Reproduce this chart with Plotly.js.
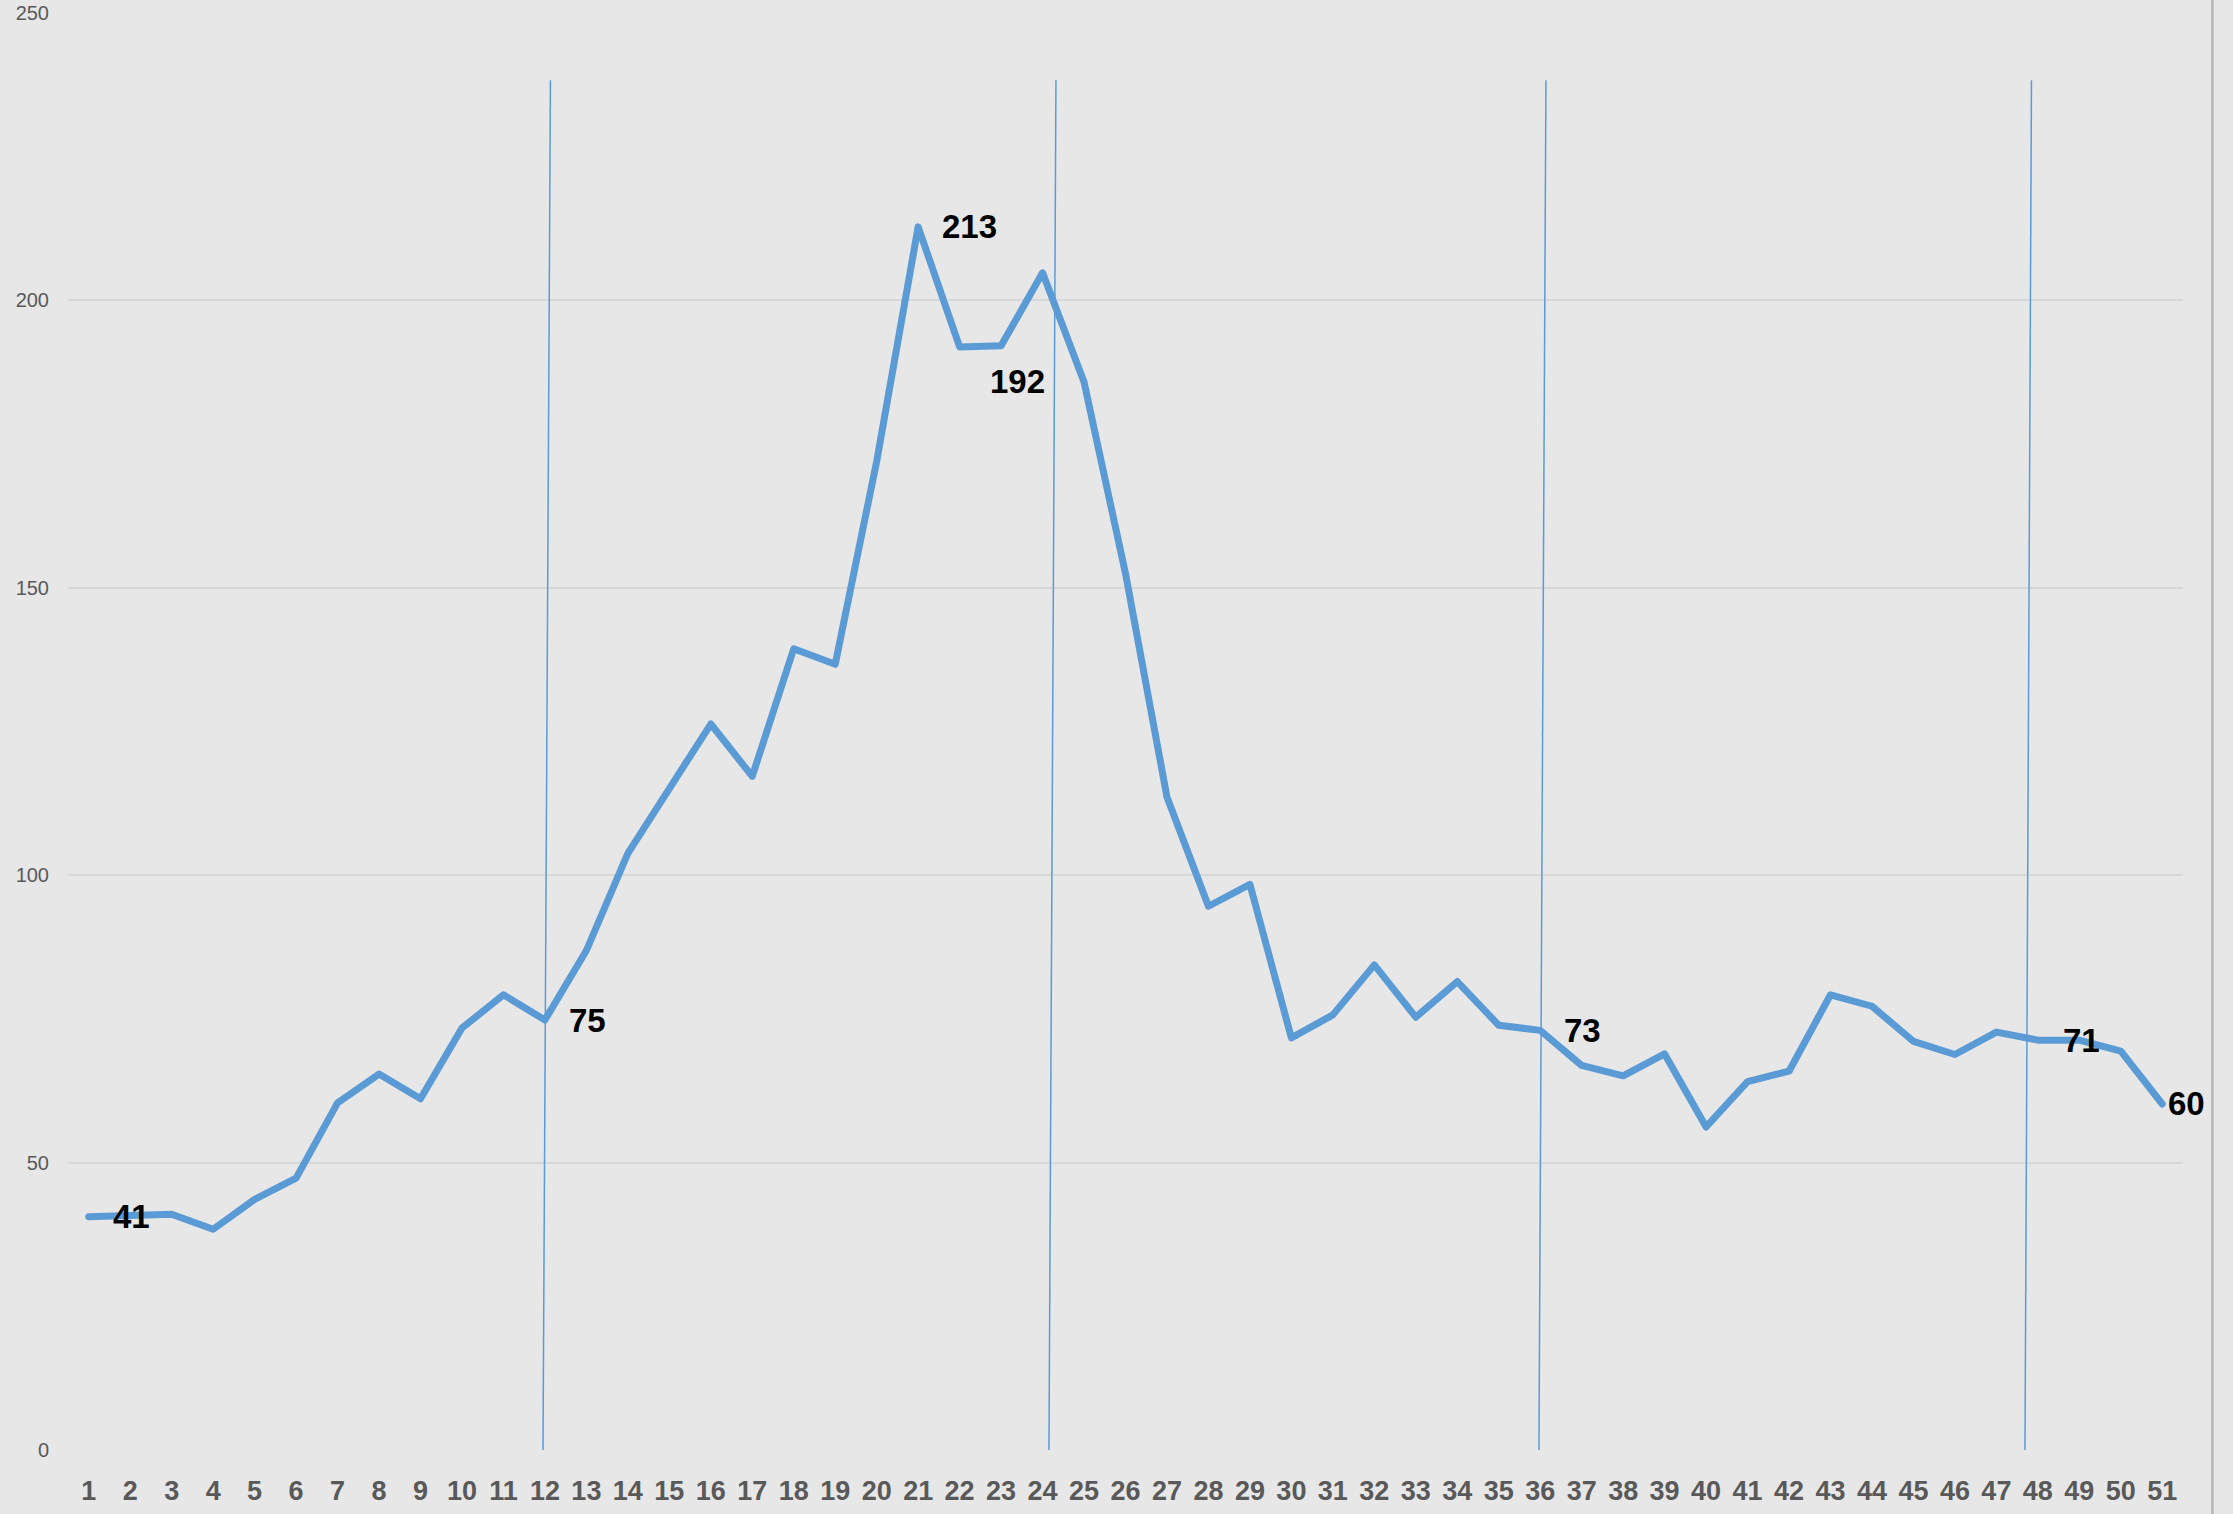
<!DOCTYPE html>
<html>
<head>
<meta charset="utf-8">
<script src="https://cdn.plot.ly/plotly-3.0.1.min.js"></script>
<style>
  html, body { margin: 0; padding: 0; background: #e7e7e7; }
  #chart { width: 2233px; height: 1514px; }
  #chart path.js-line { stroke-linejoin: round; stroke-linecap: round; }
</style>
</head>
<body>
<div id="chart"></div>
<script>
// ---- data ----
const weeks = [1,2,3,4,5,6,7,8,9,10,11,12,13,14,15,16,17,18,19,20,21,22,23,24,25,26,
  27,28,29,30,31,32,33,34,35,36,37,38,39,40,41,42,43,44,45,46,47,48,49,50,51];
const tickLabels = ["1","2","3","4","5","6","7","8","9","10","11","12","13","14","15","16","17",
  "18","19","20","21","22","23","24","25","26","27","28","29","30","31","32","33","34","35","36",
  "37","38","39","40","41","42","43","44","45","46","47","48","49","50","51"];
const values = [40.6, 40.7, 41.0, 38.4, 43.6, 47.3, 60.4, 65.4, 61.1, 73.4, 79.2, 74.8,
  86.9, 103.8, 115.0, 126.3, 117.2, 139.4, 136.7, 172.0, 212.8, 191.9, 192.1, 204.8,
  185.8, 152.5, 113.6, 94.6, 98.4, 71.7, 75.7, 84.4, 75.3, 81.5, 73.9, 73.0,
  66.9, 65.1, 68.9, 56.2, 64.1, 65.9, 79.2, 77.2, 71.1, 68.8, 72.7, 71.3,
  71.3, 69.4, 60.2];
const labelledWeeks = [1, 12, 21, 23, 36, 48, 51];
const dividerWeeks = [12, 24, 36, 48];
const yTicks = [0, 50, 100, 150, 200, 250];

// ---- styling ----
const lineColor = '#5b9bd5';
const bg = '#e7e7e7';

// label placements (offsets in px)
const labelStyle = {
  1:  {xshift: 22, yshift: 0, xanchor: 'left'},
  12: {xshift: 22, yshift: 0, xanchor: 'left'},
  21: {xshift: 22, yshift: 0, xanchor: 'left'},
  23: {xshift: 16, yshift: -36, xanchor: 'center'},
  36: {xshift: 22, yshift: 0, xanchor: 'left'},
  48: {xshift: 23, yshift: 0, xanchor: 'left'},
  51: {xshift: 4,  yshift: 0, xanchor: 'left'}
};
// slant of hand-drawn divider lines (top / bottom offsets from week)
const dividerSlant = {12: [0.133, -0.047], 24: [0.323, 0.154], 36: [0.138, -0.031], 48: [-0.154, -0.311]};

const annotations = labelledWeeks.map(w => {
  const s = labelStyle[w];
  return {
    x: w, y: values[w - 1], xref: 'x', yref: 'y',
    text: String(Math.round(values[w - 1])),
    showarrow: false, xanchor: s.xanchor, yanchor: 'middle',
    xshift: s.xshift, yshift: s.yshift,
    font: {family: 'Liberation Sans, Arial, sans-serif', size: 33, color: '#000000', weight: 'bold'}
  };
});

const shapes = dividerWeeks.map(w => ({
  type: 'line', xref: 'x', yref: 'y',
  x0: w + dividerSlant[w][1], y0: -0.5,
  x1: w + dividerSlant[w][0], y1: 238.3,
  line: {color: lineColor, width: 1.5}
}));
shapes.push({
  type: 'line', xref: 'paper', yref: 'paper',
  x0: 1.0139, x1: 1.0139, y0: -0.05, y1: 1.02,
  line: {color: '#b4b4b4', width: 2.5}
});

const trace = {
  x: weeks, y: values, type: 'scatter', mode: 'lines',
  line: {color: lineColor, width: 7, shape: 'linear'},
  hoverinfo: 'skip'
};

const layout = {
  width: 2233, height: 1514,
  margin: {l: 68, r: 50, t: 13, b: 64, pad: 0},
  paper_bgcolor: bg, plot_bgcolor: bg,
  showlegend: false,
  xaxis: {
    range: [0.5, 51.5], tickmode: 'array', tickvals: weeks, ticktext: tickLabels,
    showgrid: false, zeroline: false, showline: false, ticks: '',
    ticklabelstandoff: 22,
    tickfont: {family: 'Liberation Sans, Arial, sans-serif', size: 27, color: '#595959', weight: 'bold'}
  },
  yaxis: {
    range: [0, 250], tickmode: 'array', tickvals: yTicks,
    showgrid: true, gridcolor: '#d7d7d7', gridwidth: 2,
    zeroline: false, showline: false, ticks: '',
    ticklabelstandoff: 18,
    tickfont: {family: 'Liberation Sans, Arial, sans-serif', size: 20, color: '#595959'}
  },
  annotations: annotations,
  shapes: shapes
};

Plotly.newPlot('chart', [trace], layout, {staticPlot: true, displayModeBar: false});
</script>
</body>
</html>
